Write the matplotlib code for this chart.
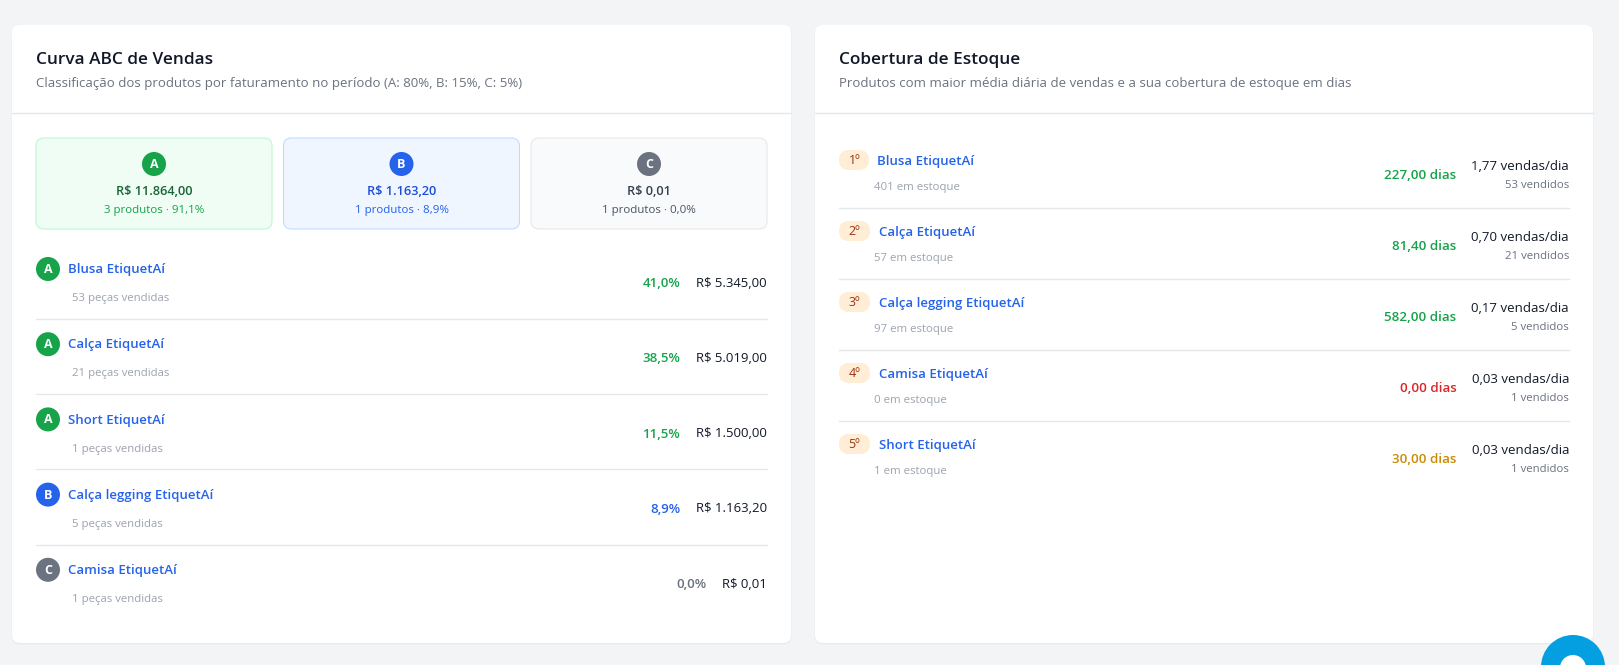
import matplotlib
matplotlib.use("Agg")
import matplotlib.pyplot as plt
from matplotlib.patches import Circle, FancyBboxPatch

# ── data ─────────────────────────────────────────────────────────────────
CLASS_LABELS = ["A", "B", "C"]
CLASS_TOTALS = ["R$ 11.864,00", "R$ 1.163,20", "R$ 0,01"]
CLASS_NOTES = ["3 produtos · 91,1%", "1 produtos · 8,9%", "1 produtos · 0,0%"]

ABC_NAMES = ["Blusa EtiquetAí", "Calça EtiquetAí", "Short EtiquetAí", "Calça legging EtiquetAí", "Camisa EtiquetAí"]
ABC_CLASSES = ["A", "A", "A", "B", "C"]
ABC_SOLD = [53, 21, 1, 5, 1]
ABC_SHARE = ["41,0%", "38,5%", "11,5%", "8,9%", "0,0%"]
ABC_REVENUE = ["R$ 5.345,00", "R$ 5.019,00", "R$ 1.500,00", "R$ 1.163,20", "R$ 0,01"]

COVER_NAMES = ["Blusa EtiquetAí", "Calça EtiquetAí", "Calça legging EtiquetAí", "Camisa EtiquetAí", "Short EtiquetAí"]
COVER_STOCK = [401, 57, 97, 0, 1]
COVER_DAYS = [227.00, 81.40, 582.00, 0.00, 30.00]
COVER_RATE = ["1,77", "0,70", "0,17", "0,03", "0,03"]
COVER_SOLD = [53, 21, 5, 1, 1]

# ── palette ──────────────────────────────────────────────────────────────
BG = "#f3f4f6"
LINE = "#e5e7eb"
INK = "#111827"
MUTED = "#6b7280"
FAINT = "#9ca3af"
LINK = "#2563eb"
CLASS_STYLE = {
    "A": dict(fill="#f0fdf4", edge="#bbf7d0", dot="#16a34a", total="#166534", note="#16a34a"),
    "B": dict(fill="#eff6ff", edge="#bfdbfe", dot="#2563eb", total="#1d4ed8", note="#2563eb"),
    "C": dict(fill="#f9fafb", edge="#e5e7eb", dot="#6b7280", total="#374151", note="#4b5563"),
}
W, H = 1619, 665

plt.rcParams["font.family"] = ["Open Sans", "DejaVu Sans"]


def px(size):
    return size * 0.72


def rounded(ax, x0, y0, x1, y1, r, fc, ec="none", lw=1, z=1):
    ax.add_patch(FancyBboxPatch((x0 + r, y0 + r), x1 - x0 - 2 * r, y1 - y0 - 2 * r,
                                boxstyle=f"round,pad={r},rounding_size={r}",
                                fc=fc, ec=ec, lw=lw, zorder=z))


def dot(ax, x, y, label, color):
    ax.add_patch(Circle((x, y), 12, fc=color, ec="none", zorder=3))
    ax.text(x, y + 0.5, label, color="white", fontsize=px(12.5), fontweight="bold",
            ha="center", va="center", zorder=4)


def text(ax, x, y, s, size, color, weight="normal", ha="left"):
    # nudged up a little, baseline sits higher than in the first pass
    ax.text(x, y - 0.8, s, fontsize=px(size), color=color, fontweight=weight, ha=ha,
            va="center_baseline", zorder=4)


def card(ax, x0, x1, title, subtitle):
    for off, alpha in ((2, 0.015), (1, 0.025)):
        rounded(ax, x0 - off + 1, 26, x1 + off - 1, 643 + off, 8, "black", z=0.5)
        ax.patches[-1].set_alpha(alpha)
    rounded(ax, x0, 25, x1, 643, 8, "white", z=1)
    text(ax, x0 + 24, 58.5, title, 17.2, INK, "semibold")
    text(ax, x0 + 24, 83, subtitle, 13.2, MUTED)
    ax.plot([x0, x1], [113, 113], color=LINE, lw=1, zorder=2)


def days_color(days):
    if days <= 0:
        return "#dc2626"
    if days < 60:
        return "#ca8a04"
    return "#16a34a"


def fmt_days(days):
    return f"{days:.2f}".replace(".", ",") + " dias"


fig = plt.figure(figsize=(W / 100, H / 100), dpi=100, facecolor=BG)
ax = fig.add_axes([0, 0, 1, 1])
ax.set_xlim(0, W)
ax.set_ylim(H, 0)
ax.axis("off")

# ── left card ────────────────────────────────────────────────────────────
card(ax, 12, 791, "Curva ABC de Vendas",
     "Classificação dos produtos por faturamento no período (A: 80%, B: 15%, C: 5%)")

for i, label in enumerate(CLASS_LABELS):
    st = CLASS_STYLE[label]
    x0 = 36 + i * 247.5
    x1 = x0 + 236
    xc = (x0 + x1) / 2
    rounded(ax, x0, 138, x1, 229, 8, st["fill"], st["edge"], 0.75, 2)
    dot(ax, xc, 164, label, st["dot"])
    text(ax, xc, 190.5, CLASS_TOTALS[i], 12.8, st["total"], "semibold", "center")
    text(ax, xc, 209.5, CLASS_NOTES[i], 11.5, st["note"], ha="center")

for i, name in enumerate(ABC_NAMES):
    y = 269 + i * 75.2
    cls = ABC_CLASSES[i]
    st = CLASS_STYLE[cls]
    dot(ax, 48, y, cls, st["dot"])
    text(ax, 68, y, name, 13.2, LINK, "semibold")
    text(ax, 72, y + 29, f"{ABC_SOLD[i]} peças vendidas", 11.4, FAINT)
    rev_x = 767
    text(ax, rev_x, y + 13.5, ABC_REVENUE[i], 13.1, INK, ha="right")
    rev_w = {4: 45}.get(i, 71)
    text(ax, rev_x - rev_w - 16, y + 14, ABC_SHARE[i], 13.3,
         {"A": "#16a34a", "B": LINK, "C": MUTED}[cls], "semibold", "right")
    if i < len(ABC_NAMES) - 1:
        ax.plot([36, 767], [y + 50, y + 50], color=LINE, lw=1, zorder=2)

# ── right card ───────────────────────────────────────────────────────────
card(ax, 815, 1593, "Cobertura de Estoque",
     "Produtos com maior média diária de vendas e a sua cobertura de estoque em dias")

for i, name in enumerate(COVER_NAMES):
    y = 160 + i * 71
    rounded(ax, 839, y - 10, 869 if i == 0 else 870, y + 10, 10, "#ffedd5", z=2)
    text(ax, 854.5, y, f"{i + 1}º", 12.5, "#9a3412", ha="center")
    text(ax, 877 if i == 0 else 878.5, y + 0.5, name, 13.2, LINK, "semibold")
    text(ax, 874, y + 27, f"{COVER_STOCK[i]} em estoque", 11.4, FAINT)
    text(ax, 1456.5, y + 15, fmt_days(COVER_DAYS[i]), 13.4, days_color(COVER_DAYS[i]), "semibold", "right")
    text(ax, 1569, y + 5.5, f"{COVER_RATE[i]} vendas/dia", 13.2, INK, ha="right")
    text(ax, 1569, y + 24.5, f"{COVER_SOLD[i]} vendidos", 11.4, MUTED, ha="right")
    if i < len(COVER_NAMES) - 1:
        ax.plot([839, 1569], [y + 48, y + 48], color=LINE, lw=1, zorder=2)

# ── chat button, cut by the bottom of the page ───────────────────────────
ax.add_patch(Circle((1573, 667), 32, fc="#039fe0", ec="none", zorder=5))
ax.add_patch(Circle((1573, 668), 13, fc="white", ec="none", zorder=6))

fig.savefig("out.png", dpi=100, facecolor=BG)
